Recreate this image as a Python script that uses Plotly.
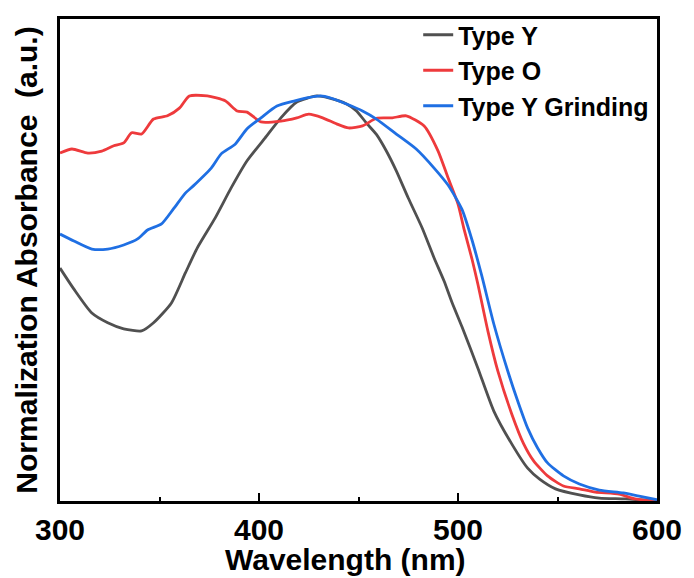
import plotly.graph_objects as go

# Type Y
wl_y = [300,307,316,324,332,341,347,356,363,369,378,386,394,403,411,419,429,435,444,449,454,459,464,469,475,482,488,493,497,502,510,518,527,535,541,549,561,571,584,600]
abs_y = [0.575,0.523,0.464,0.44,0.425,0.42,0.44,0.489,0.563,0.625,0.699,0.773,0.84,0.896,0.946,0.985,1.0,0.995,0.98,0.963,0.933,0.905,0.864,0.815,0.748,0.674,0.6,0.543,0.49,0.43,0.328,0.222,0.141,0.081,0.054,0.03,0.015,0.007,0.005,0.0]

# Type O
wl_o = [300,306,314,321,327,332,336,341,347,354,360,365,374,383,389,394,401,411,419,425,432,439,445,452,459,467,474,483,490,495,500,503,507,510,515,520,527,533,538,545,553,561,569,581,589,600]
abs_o = [0.859,0.869,0.859,0.864,0.877,0.884,0.909,0.906,0.943,0.951,0.97,1.0,1.0,0.988,0.963,0.96,0.936,0.938,0.946,0.955,0.946,0.931,0.921,0.926,0.945,0.946,0.951,0.926,0.864,0.798,0.733,0.672,0.598,0.535,0.42,0.321,0.215,0.141,0.099,0.062,0.037,0.03,0.022,0.017,0.005,0.0]

# Type Y Grinding
wl_g = [300,307,316,324,332,339,344,351,357,363,367,376,381,388,394,401,409,418,424,431,436,444,452,459,469,479,488,495,502,507,512,518,525,530,535,540,545,553,561,571,583,591,600]
abs_g = [0.659,0.642,0.622,0.622,0.632,0.647,0.669,0.684,0.721,0.76,0.778,0.822,0.857,0.881,0.919,0.946,0.975,0.988,0.995,1.0,0.995,0.98,0.963,0.943,0.906,0.869,0.822,0.78,0.72,0.645,0.555,0.437,0.321,0.247,0.18,0.131,0.094,0.062,0.042,0.027,0.02,0.012,0.003]

series_names = ["Type Y", "Type O", "Type Y Grinding"]
colors = ["#505050", "#ee3a3c", "#1f6fe3"]
x_ticks = [300, 400, 500, 600]

FONT = "Liberation Sans, Arial, sans-serif"

fig = go.Figure()
for i, (x, y) in enumerate([(wl_y, abs_y), (wl_o, abs_o), (wl_g, abs_g)]):
    fig.add_trace(go.Scatter(x=x, y=y, mode="lines", name=series_names[i],
                             line=dict(color=colors[i], width=2.8, shape="spline", smoothing=0.6)))

fig.update_layout(
    width=694, height=578,
    margin=dict(l=60, r=29, t=18, b=77),
    paper_bgcolor="white", plot_bgcolor="white",
    font=dict(family=FONT, color="black", size=18, weight="bold"),
    showlegend=True,
    legend=dict(x=0.600, y=1.0145, xanchor="left", yanchor="top",
                bgcolor="rgba(0,0,0,0)", tracegroupgap=0,
                font=dict(family=FONT, size=25, weight="bold", color="black")),
    xaxis=dict(range=[300, 600], tickvals=x_ticks,
               ticks="inside", ticklen=8, tickwidth=2, tickcolor="black",
               minor=dict(dtick=50, ticks="inside", ticklen=4, tickwidth=2, tickcolor="black"),
               showline=True, linewidth=2.5, linecolor="black", mirror=True,
               showgrid=False, zeroline=False,
               tickfont=dict(family=FONT, size=30, weight="bold")),
    yaxis=dict(range=[0, 1.19], showticklabels=False, ticks="",
               showline=True, linewidth=2.5, linecolor="black", mirror=True,
               showgrid=False, zeroline=False,
               title=dict(text="Normalization Absorbance  (a.u.)", standoff=11,
                          font=dict(family=FONT, size=30, weight="bold"))),
    annotations=[dict(text="Wavelength (nm)", xref="paper", yref="paper",
                      x=0.479, y=-0.122, xanchor="center", yanchor="middle",
                      showarrow=False,
                      font=dict(family=FONT, size=30, weight="bold", color="black"))],
)

fig.write_html("out.html", config={"displayModeBar": False},
               post_script="document.body.style.margin='0px';document.documentElement.style.overflow='hidden';")
